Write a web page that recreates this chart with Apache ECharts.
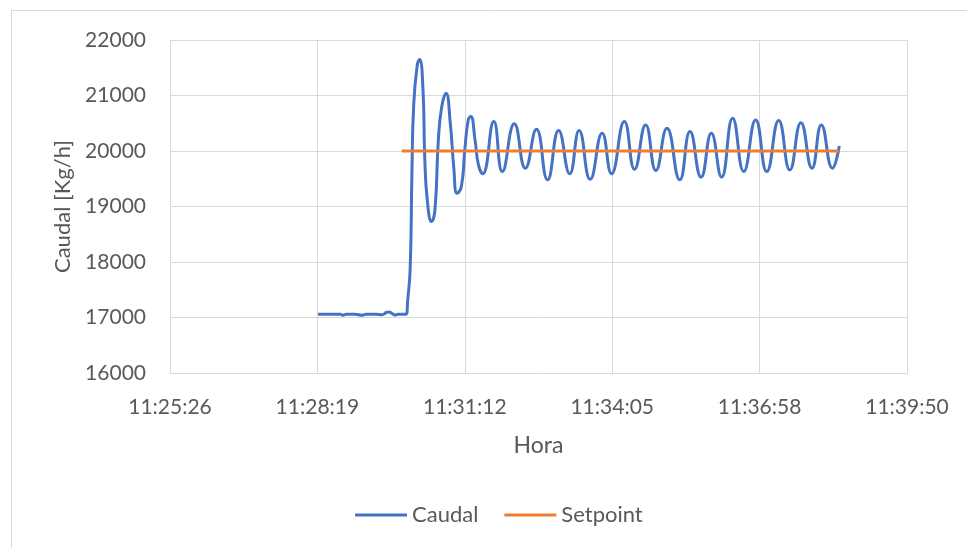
<!DOCTYPE html>
<html>
<head>
<meta charset="utf-8">
<script src="https://cdn.jsdelivr.net/npm/echarts@6/dist/echarts.min.js"></script>
<style>
  html, body { margin: 0; padding: 0; background: #fff; }
  #chart { width: 967px; height: 548px; }
</style>
</head>
<body>
<div id="chart"></div>
<script>
// Caudal
const caudalTime = [
  "11:28:20", "11:28:46", "11:28:49", "11:28:53", "11:29:03", "11:29:12", "11:29:16", "11:29:28",
  "11:29:35", "11:29:40", "11:29:43", "11:29:47", "11:29:50", "11:29:54", "11:30:03",
  "11:30:05", "11:30:08", "11:30:10", "11:30:12", "11:30:16", "11:30:19", "11:30:23", "11:30:25",
  "11:30:28", "11:30:33", "11:30:37", "11:30:41", "11:30:45", "11:30:50", "11:30:55", "11:30:59",
  "11:31:03", "11:31:08", "11:31:12", "11:31:16", "11:31:19", "11:31:24", "11:31:28", "11:31:33",
  "11:31:46", "11:31:56", "11:32:10", "11:32:23", "11:32:36", "11:32:49", "11:33:02", "11:33:15",
  "11:33:26", "11:33:39", "11:33:53", "11:34:04", "11:34:19", "11:34:31", "11:34:44", "11:34:56",
  "11:35:09", "11:35:24", "11:35:36", "11:35:49", "11:36:01", "11:36:13", "11:36:26", "11:36:39",
  "11:36:53", "11:37:06", "11:37:20", "11:37:33", "11:37:46", "11:37:59", "11:38:10", "11:38:23",
  "11:38:31"
];
const caudalValue = [
  17060, 17060, 17040, 17060, 17060, 17040, 17060, 17060,
  17050, 17090, 17100, 17070, 17045, 17060, 17060,
  17300, 17900, 19600, 20800, 21520, 21650, 21100, 19900,
  19120, 18730, 18940, 20200, 20800, 21040, 20500, 19720,
  19240, 19360, 20020, 20560, 20620, 20200, 19750, 19590,
  20530, 19630, 20490, 19690, 20390, 19480, 20370, 19590,
  20370, 19490, 20320, 19590, 20530, 19670, 20470, 19650,
  20410, 19480, 20350, 19530, 20320, 19530, 20590, 19630,
  20560, 19630, 20550, 19660, 20510, 19690, 20470, 19690,
  20090
];

// Setpoint
const setpointTime = ["11:29:58", "11:38:31"];
const setpointValue = [20000, 20000];

// eje X: 11:25:26 .. 11:39:50, un tick cada 0.002 dias (172.8 s)
const X_MIN = 41126.4;
const X_MAX = 41990.4;
const X_STEP = 172.8;

const TEXT = "#595959";
const GRID = "#d9d9d9";
const FONT = "Lato, 'Liberation Sans', sans-serif";

function toSec(hms) {
  const [h, m, s] = hms.split(":").map(Number);
  return h * 3600 + m * 60 + s;
}
function fmt(sec) {
  const t = Math.round(sec);
  const h = Math.floor(t / 3600);
  const m = Math.floor((t % 3600) / 60);
  const s = t % 60;
  return h + ":" + String(m).padStart(2, "0") + ":" + String(s).padStart(2, "0");
}

const chart = echarts.init(document.getElementById("chart"));
chart.setOption({
  animation: false,
  backgroundColor: "#fff",
  textStyle: { fontFamily: FONT },
  graphic: [
    {
      type: "rect",
      shape: { x: 11.5, y: 10.5, width: 1000, height: 600 },
      style: { fill: "none", stroke: GRID, lineWidth: 1 },
      silent: true,
    },
  ],
  grid: { left: 170, right: 60, top: 40, bottom: 175 },
  legend: {
    top: 499,
    left: 350,
    itemWidth: 52,
    itemHeight: 3,
    itemGap: 26,
    icon: "rect",
    textStyle: { color: TEXT, fontSize: 22, fontFamily: FONT },
    data: ["Caudal", "Setpoint"],
  },
  xAxis: {
    type: "value",
    min: X_MIN,
    max: X_MAX,
    interval: X_STEP,
    name: "Hora",
    nameLocation: "middle",
    nameGap: 61,
    nameTextStyle: { color: TEXT, fontSize: 23, fontFamily: FONT },
    axisLine: { show: true, lineStyle: { color: GRID, width: 1 } },
    axisTick: { show: false },
    axisLabel: { color: TEXT, fontSize: 21, margin: 24, formatter: (v) => fmt(v) },
    splitLine: { show: true, lineStyle: { color: GRID, width: 1 } },
  },
  yAxis: {
    type: "value",
    min: 16000,
    max: 22000,
    interval: 1000,
    name: "Caudal [Kg/h]",
    nameLocation: "middle",
    nameGap: 96,
    nameTextStyle: { color: TEXT, fontSize: 22, fontFamily: FONT },
    axisLine: { show: false },
    axisTick: { show: false },
    axisLabel: { color: TEXT, fontSize: 21, margin: 24, formatter: (v) => String(v) },
    splitLine: { show: true, lineStyle: { color: GRID, width: 1 } },
  },
  series: [
    {
      name: "Caudal",
      type: "line",
      data: caudalTime.map((t, i) => [toSec(t), caudalValue[i]]),
      showSymbol: false,
      smooth: 0.5,
      lineStyle: { width: 3, color: "#4472C4" },
      itemStyle: { color: "#4472C4" },
    },
    {
      name: "Setpoint",
      type: "line",
      data: setpointTime.map((t, i) => [toSec(t), setpointValue[i]]),
      showSymbol: false,
      lineStyle: { width: 3, color: "#ED7D31" },
      itemStyle: { color: "#ED7D31" },
    },
  ],
});
</script>
</body>
</html>
